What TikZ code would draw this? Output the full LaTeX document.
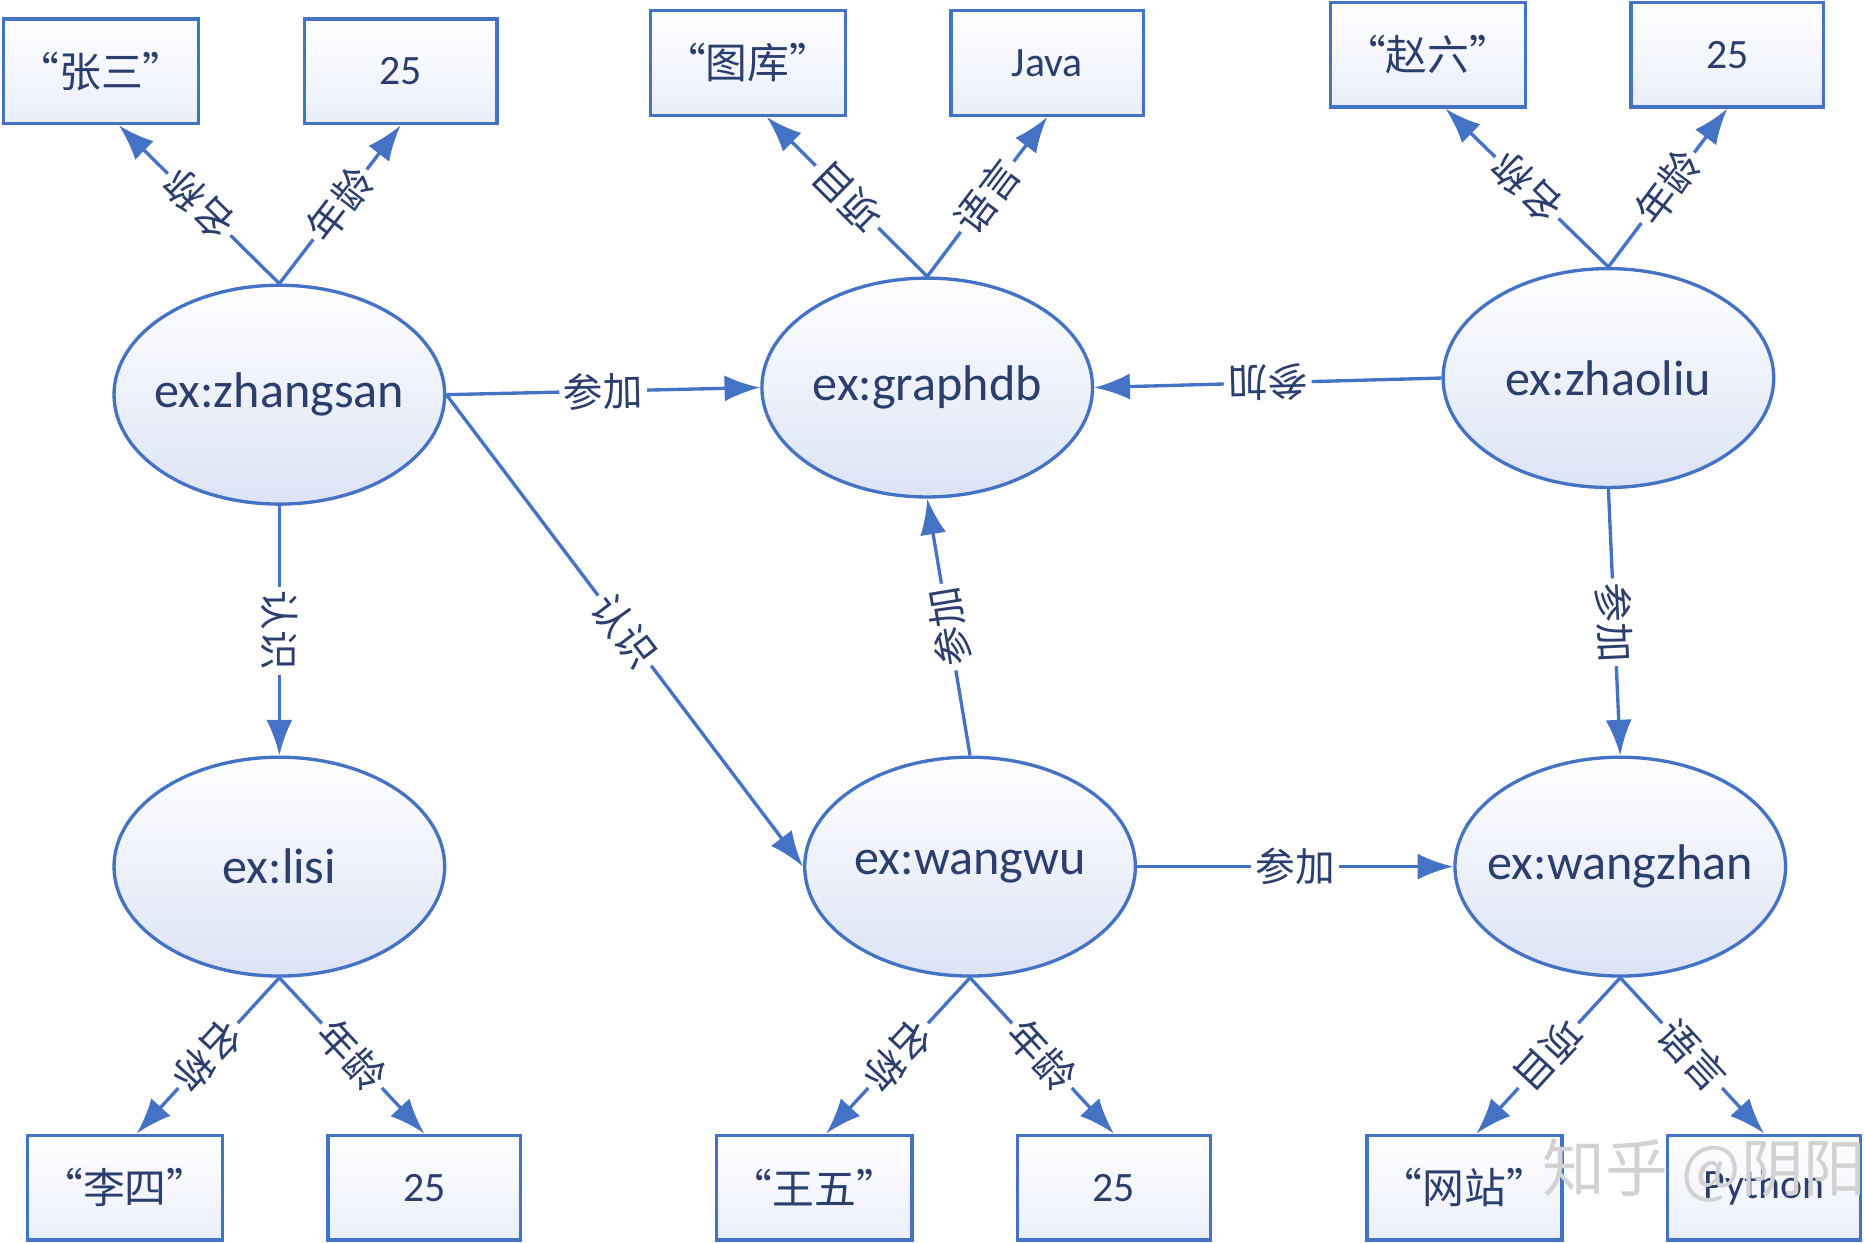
\documentclass[tikz,border=0pt]{standalone}
\usepackage{fontspec}
\setmainfont{Carlito}
\newfontfamily\cjk{Noto Sans CJK SC}
\usetikzlibrary{shapes.geometric,arrows.meta}
\definecolor{ln}{HTML}{4472C4}
\definecolor{tx}{HTML}{2B3E6E}
\definecolor{fl}{HTML}{DCE3F5}
\newcommand{\entlab}[1]{\makebox[0pt]{#1}}
\begin{document}
\begin{tikzpicture}[x=0.01cm,y=-0.01cm,
  ent/.style={ellipse,draw=ln,thick,top color=white,bottom color=fl,inner sep=0pt,minimum width=2.78cm,minimum height=1.84cm,text=tx,font=\fontsize{12}{14}\selectfont},
  lit/.style={rectangle,draw=ln,thick,top color=white,bottom color=fl!60,minimum width=1.62cm,minimum height=0.88cm,text=tx,font=\cjk\fontsize{10}{12}\selectfont},
  rel/.style={draw=ln,thick,-{Latex[length=3mm,width=2.2mm]}},
  lab/.style={fill=white,inner sep=1pt,text=tx,sloped,allow upside down,font=\cjk\fontsize{9.5}{11}\selectfont}]
\useasboundingbox (0,0) rectangle (1568,1045);
\node[ent] (zs) at (235,332) {\entlab{ex:zhangsan}};
\node[ent] (gd) at (780,326) {\entlab{ex:graphdb}};
\node[ent] (zl) at (1353,318) {\entlab{ex:zhaoliu}};
\node[ent] (ls) at (235,729) {\entlab{ex:lisi}};
\node[ent] (ww) at (816,729) {\entlab{ex:wangwu}};
\node[ent] (wz) at (1363,729) {\entlab{ex:wangzhan}};
\node[lit] (b1) at (85,60) {“张三”};
\node[lit] (b2) at (337,60) {\rmfamily 25};
\node[lit] (b3) at (629,53) {“图库”};
\node[lit] (b4) at (881,53) {\rmfamily Java};
\node[lit] (b5) at (1201,46) {“赵六”};
\node[lit] (b6) at (1453,46) {\rmfamily 25};
\node[lit] (b7) at (105,999) {“李四”};
\node[lit] (b8) at (357,999) {\rmfamily 25};
\node[lit] (b9) at (685,999) {“王五”};
\node[lit] (b10) at (937,999) {\rmfamily 25};
\node[lit] (b11) at (1232,999) {“网站”};
\node[lit] (b12) at (1484,999) {\rmfamily Python};
\draw[rel] (zs.north) -- node[lab]{名称} ([xshift=0.15cm]b1.south);
\draw[rel] (zs.north) -- node[lab]{年龄} (b2.south);
\draw[rel] (gd.north) -- node[lab]{项目} ([xshift=0.16cm]b3.south);
\draw[rel] (gd.north) -- node[lab]{语言} (b4.south);
\draw[rel] (zl.north) -- node[lab]{名称} ([xshift=0.15cm]b5.south);
\draw[rel] (zl.north) -- node[lab]{年龄} (b6.south);
\draw[rel] (ls.south) -- node[lab]{名称} ([xshift=0.1cm]b7.north);
\draw[rel] (ls.south) -- node[lab]{年龄} (b8.north);
\draw[rel] (ww.south) -- node[lab]{名称} ([xshift=0.1cm]b9.north);
\draw[rel] (ww.south) -- node[lab]{年龄} (b10.north);
\draw[rel] (wz.south) -- node[lab]{项目} ([xshift=0.1cm]b11.north);
\draw[rel] (wz.south) -- node[lab]{语言} (b12.north);
\draw[rel] (zs.east) -- node[lab]{参加} (gd.west);
\draw[rel] (zl.west) -- node[lab]{参加} (gd.east);
\draw[rel] (zs.east) -- node[lab]{认识} (ww.west);
\draw[rel] (zs.south) -- node[lab]{认识} (ls.north);
\draw[rel] (ww.north) -- node[lab]{参加} (gd.south);
\draw[rel] (zl.south) -- node[lab]{参加} (wz.north);
\draw[rel] (ww.east) -- node[lab]{参加} (wz.west);
\node[text=gray!35,font=\cjk\fontsize{15}{18}\selectfont,anchor=west] (wm) at (1285,985) {知乎 @阴阳};
\end{tikzpicture}
\end{document}
